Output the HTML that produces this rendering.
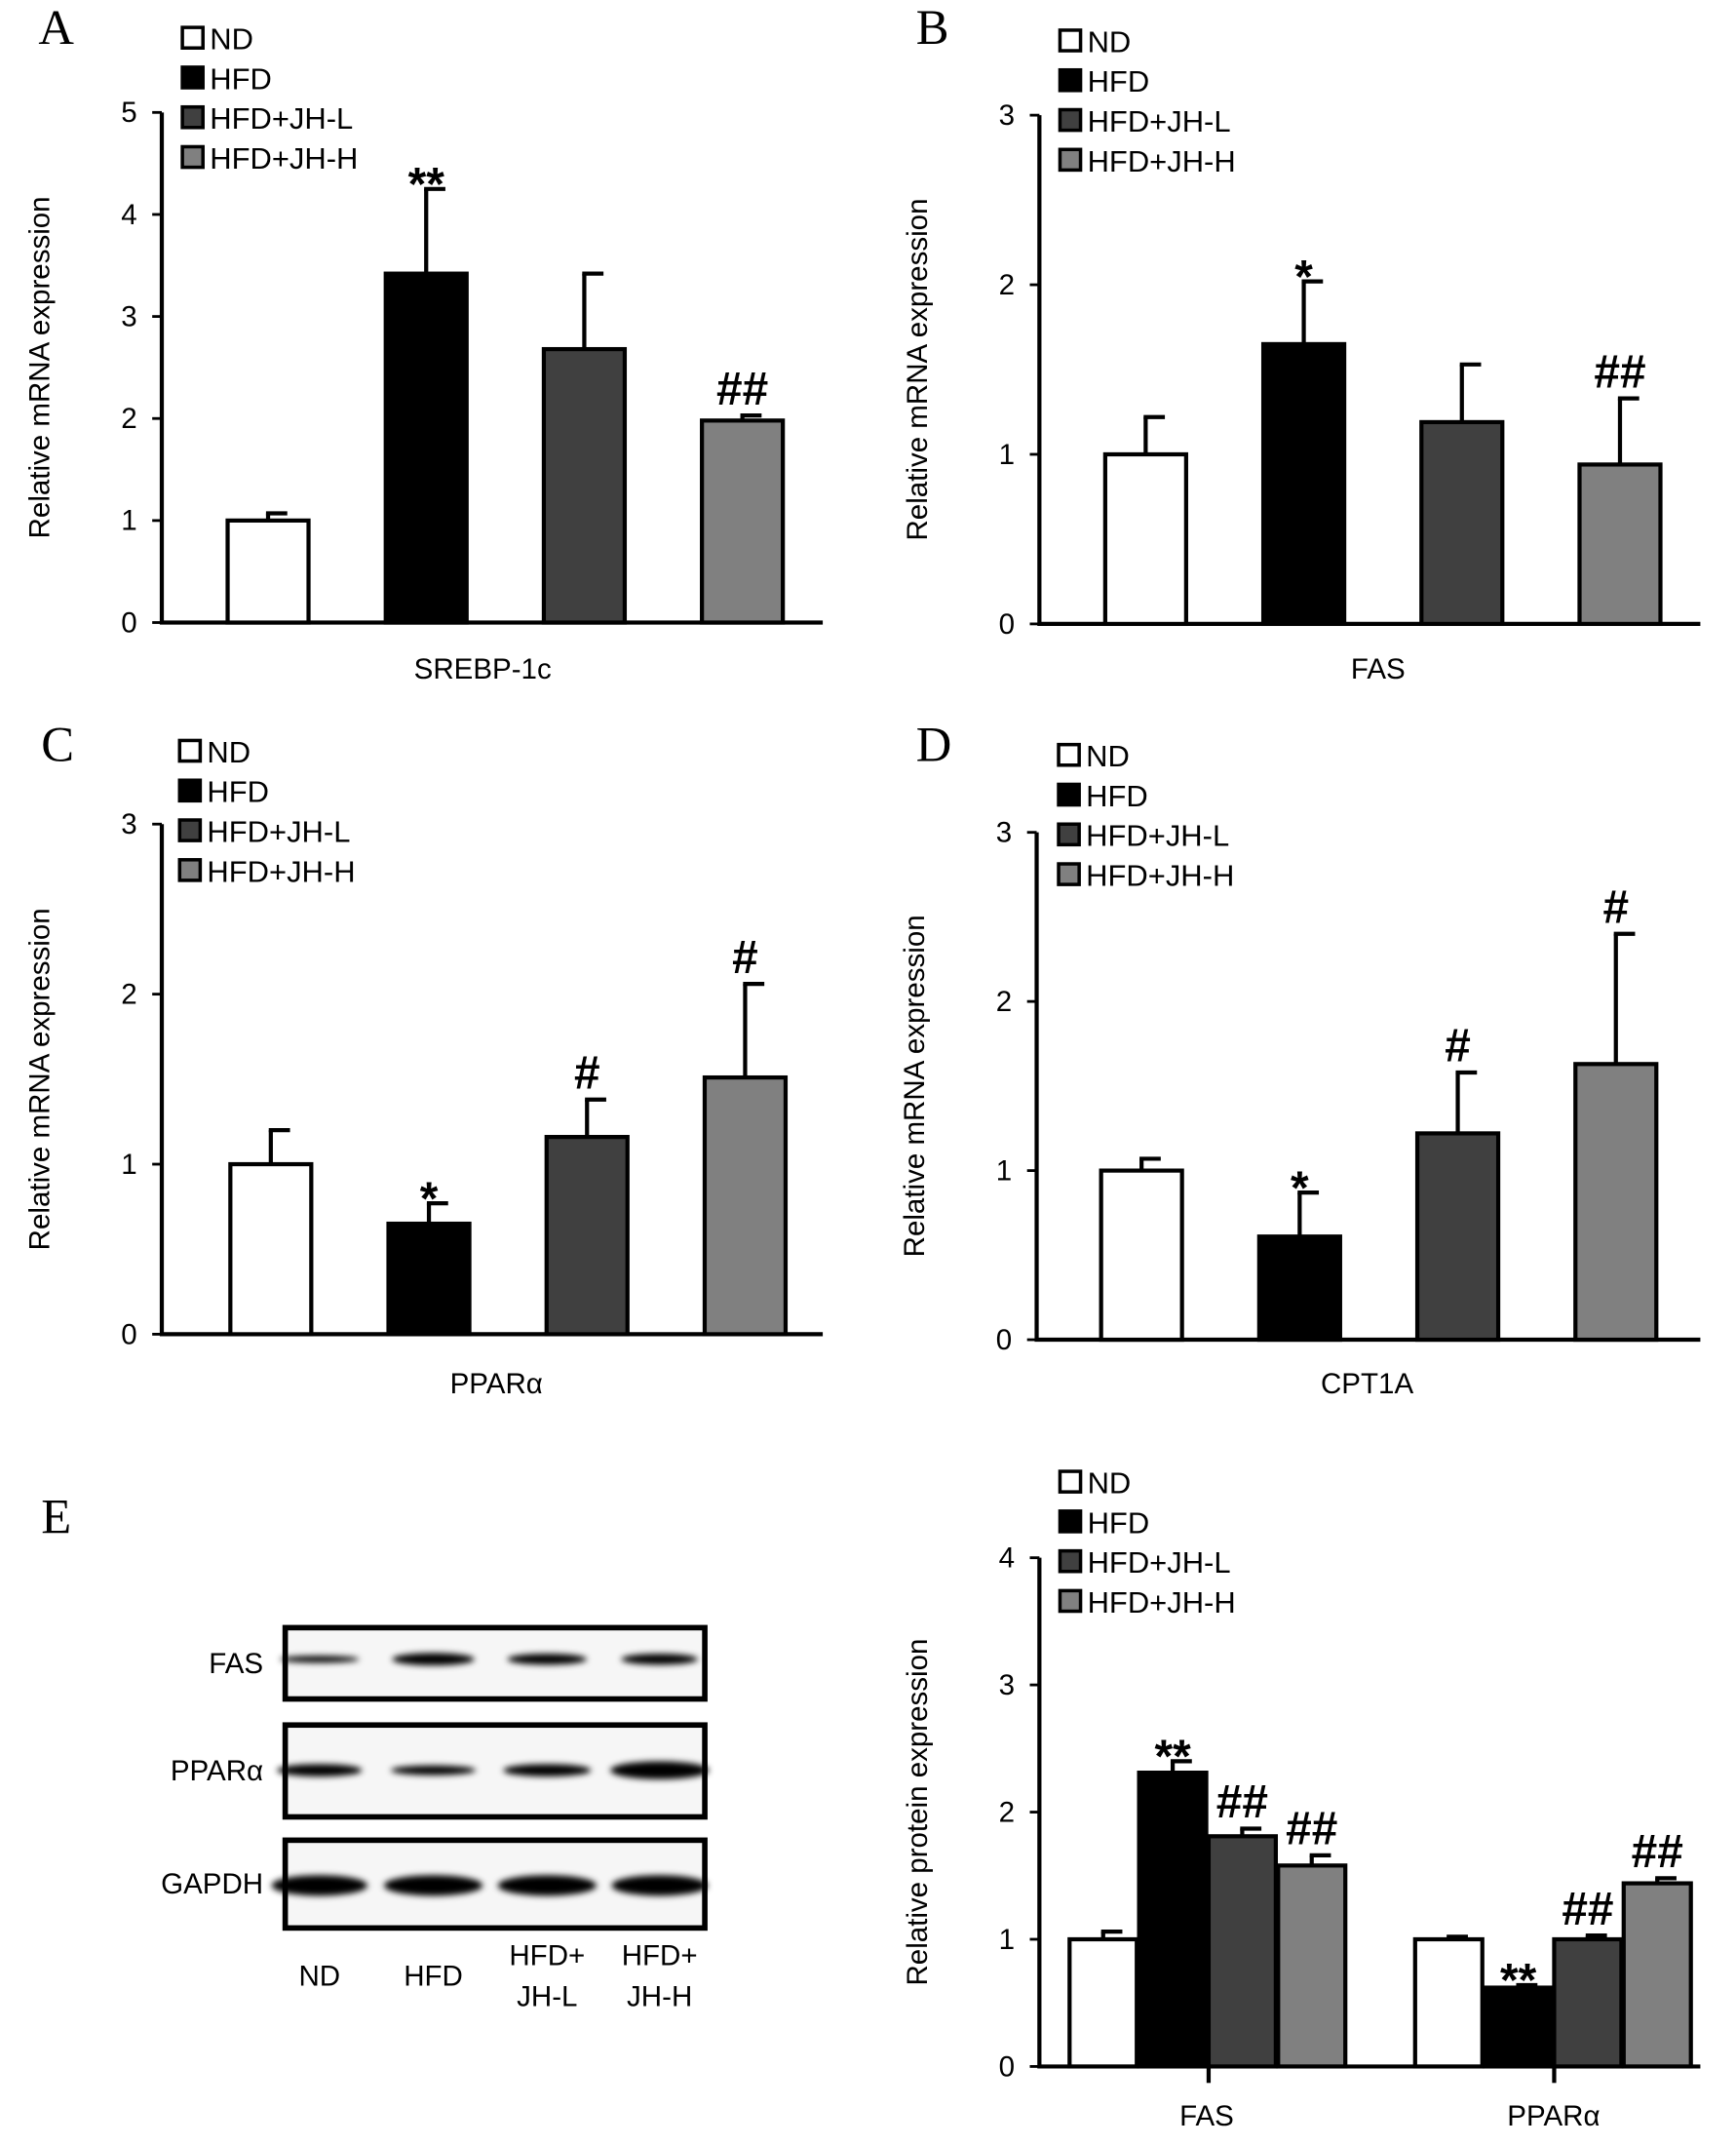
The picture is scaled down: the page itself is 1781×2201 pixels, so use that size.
<!DOCTYPE html>
<html><head><meta charset="utf-8"><style>
html,body{margin:0;padding:0;background:#fff}
svg{display:block}
text{font-family:"Liberation Sans",sans-serif;fill:#000}
.serif{font-family:"Liberation Serif",serif}
</style></head><body>
<svg id="fig" width="1781" height="2201" viewBox="0 0 1266 1565" preserveAspectRatio="none" xmlns="http://www.w3.org/2000/svg">
<defs><filter id="blur" x="-20%" y="-100%" width="140%" height="300%"><feGaussianBlur stdDeviation="2.2"/></filter></defs>
<g id="blot"></g>
</svg>
<script>
const groups = ["ND","HFD","HFD+JH-L","HFD+JH-H"];
const fills = ["#ffffff","#000000","#404040","#808080"];
const srebpVals = [1.0,3.42,2.68,1.98];
const srebpErr = [1.07,4.25,3.42,2.03];
const srebpMarks = ["","**","","##"];
const fasVals = [1.0,1.65,1.19,0.94];
const fasErr = [1.22,2.02,1.53,1.33];
const fasMarks = ["","*","","##"];
const pparVals = [1.0,0.65,1.16,1.51];
const pparErr = [1.2,0.77,1.38,2.06];
const pparMarks = ["","*","#","#"];
const cptVals = [1.0,0.61,1.22,1.63];
const cptErr = [1.07,0.87,1.58,2.4];
const cptMarks = ["","*","#","#"];
const protCats = ["FAS","PPARα"];
const protFasVals = [1.0,2.31,1.81,1.58];
const protFasErr = [1.06,2.40,1.87,1.66];
const protFasMarks = ["","**","##","##"];
const protPparVals = [1.0,0.62,1.0,1.44];
const protPparErr = [1.02,0.64,1.03,1.48];
const protPparMarks = ["","**","##","##"];
const svg = document.getElementById('fig');
const NS = "http://www.w3.org/2000/svg";
function el(tag, attrs, parent, txt){
  const e=document.createElementNS(NS,tag);
  for(const k in attrs) e.setAttribute(k,attrs[k]);
  if(txt!==undefined) e.textContent=txt;
  (parent||svg).appendChild(e); return e;
}
function panel(o){
  const g=el('g',{});
  
  
  const y=v=>o.y0-(o.y0-o.yTop)*v/o.max;
  if(o.letter){const t=el('text',{x:o.lx,y:o.ly,'font-size':36,class:'serif'},g,o.letter);
    
    }
  const ax=el('path',{d:`M${o.ax},${o.yTop} V${o.y0} H${o.axEnd}`,stroke:'#000','stroke-width':3,fill:'none'},g);
  
  
  for(let i=0;i<=o.max;i++){
    el('line',{x1:o.ax-7,x2:o.ax,y1:y(i),y2:y(i),stroke:'#000','stroke-width':2},g);
    const t=el('text',{x:o.ax-18,y:y(i)+7,'font-size':21,'text-anchor':'end'},g,String(i));
    
    
  }
  const yt=el('text',{transform:`translate(${o.ax-82},${(o.y0+o.yTop)/2}) rotate(-90)`,'font-size':21,'text-anchor':'middle'},g,o.ytitle);
  
  
  o.series.forEach(s=>{
    s.vals.forEach((v,i)=>{
      const x=s.x0+i*s.step, w=s.w;
      const top=y(s.err[i]);
      el('line',{x1:x+w/2,x2:x+w/2,y1:top,y2:y(v),stroke:'#000','stroke-width':3},g);
      el('line',{x1:x+w/2-1.5,x2:x+w/2+14,y1:top,y2:top,stroke:'#000','stroke-width':3},g);
      const b=el('rect',{x:x,y:y(v),width:w,height:o.y0-y(v),fill:fills[i],stroke:'#000','stroke-width':3},g);
      
      
      if(s.marks[i]){
        const m=s.marks[i];
        const t=el('text',{x:x+w/2,y:top-(m.includes('*')?-8:8),'font-size':34,'font-weight':'bold','text-anchor':'middle'},g,m);
        
        
      }
    });
    if(s.catTick){
      const cx=s.x0+2*s.step;
      el('line',{x1:cx,x2:cx,y1:o.y0,y2:o.y0+12,stroke:'#000','stroke-width':3},g);
    }
    const xl=el('text',{x:s.labelX,y:s.labelY,'font-size':21,'text-anchor':'middle'},g,s.label);
    
    
  });
  groups.forEach((gname,i)=>{
    const ly=o.legY+i*29;
    el('rect',{x:o.legX,y:ly-15,width:15,height:15,fill:fills[i],stroke:'#000','stroke-width':2.5},g);
    const t=el('text',{x:o.legX+20,y:ly+1,'font-size':22},g,gname);
    
    
  });
}
panel({name:'panel-a-srebp',letter:'A',lx:28,ly:32,ax:118,axEnd:600,y0:454,yTop:82,max:5,ytitle:'Relative mRNA expression',legX:133,legY:35,
  series:[{key:'srebp',vals:srebpVals,err:srebpErr,marks:srebpMarks,x0:166,step:115.3,w:59,label:'SREBP-1c',labelX:352,labelY:495}]});
panel({name:'panel-b-fas',letter:'B',lx:668,ly:32,ax:758,axEnd:1240,y0:455,yTop:84,max:3,ytitle:'Relative mRNA expression',legX:773,legY:37,
  series:[{key:'fas',vals:fasVals,err:fasErr,marks:fasMarks,x0:806,step:115.3,w:59,label:'FAS',labelX:1005,labelY:495}]});
panel({name:'panel-c-ppara',letter:'C',lx:30,ly:555,ax:118,axEnd:600,y0:973,yTop:601,max:3,ytitle:'Relative mRNA expression',legX:131,legY:555,
  series:[{key:'ppar',vals:pparVals,err:pparErr,marks:pparMarks,x0:168,step:115.3,w:59,label:'PPARα',labelX:362,labelY:1016}]});
panel({name:'panel-d-cpt1a',letter:'D',lx:668,ly:555,ax:756,axEnd:1240,y0:977,yTop:607,max:3,ytitle:'Relative mRNA expression',legX:772,legY:558,
  series:[{key:'cpt',vals:cptVals,err:cptErr,marks:cptMarks,x0:803,step:115.3,w:59,label:'CPT1A',labelX:997,labelY:1016}]});
panel({name:'panel-e-protein',letter:'E',lx:30,ly:1118,ax:758,axEnd:1240,y0:1507,yTop:1136,max:4,ytitle:'Relative protein expression',legX:773,legY:1088,
  series:[{key:'prot-fas',vals:protFasVals,err:protFasErr,marks:protFasMarks,x0:780,step:50.7,w:49,catTick:true,label:protCats[0],labelX:880,labelY:1550},
          {key:'prot-ppar',vals:protPparVals,err:protPparErr,marks:protPparMarks,x0:1032,step:50.7,w:49,catTick:true,label:protCats[1],labelX:1133,labelY:1550}]});
const blot=document.getElementById('blot');
const rows=[{n:'FAS',y1:1187,y2:1239,by:1210,h:[3,7,6,6],w:[58,60,58,56]},
            {n:'PPARα',y1:1258,y2:1325,by:1291,h:[7,5,7,11],w:[62,62,64,72]},
            {n:'GAPDH',y1:1342,y2:1406,by:1375,h:[13,13,13,13],w:[70,72,72,70]}];
const lanes=[233,316,399,481];
rows.forEach(r=>{
  el('rect',{x:208,y:r.y1,width:306,height:r.y2-r.y1,fill:'#f6f6f6',stroke:'#000','stroke-width':4},blot);
  lanes.forEach((lx,i)=>{
    const e=el('ellipse',{cx:lx,cy:r.by,rx:r.w[i]/2,ry:r.h[i]/2+1,fill:'#000',filter:'url(#blur)'},blot);
    
    
  });
  const t=el('text',{x:192,y:(r.y1+r.y2)/2+7,'font-size':21,'text-anchor':'end'},blot,r.n);
  
  
});
[['ND'],['HFD'],['HFD+','JH-L'],['HFD+','JH-H']].forEach((ls,i)=>{
  ls.forEach((s,j)=>{
    const yy= ls.length===1?1448:1433+j*30;
    const t=el('text',{x:lanes[i],y:yy,'font-size':21,'text-anchor':'middle'},blot,s);
    
    
  });
});
</script>
</body></html>
